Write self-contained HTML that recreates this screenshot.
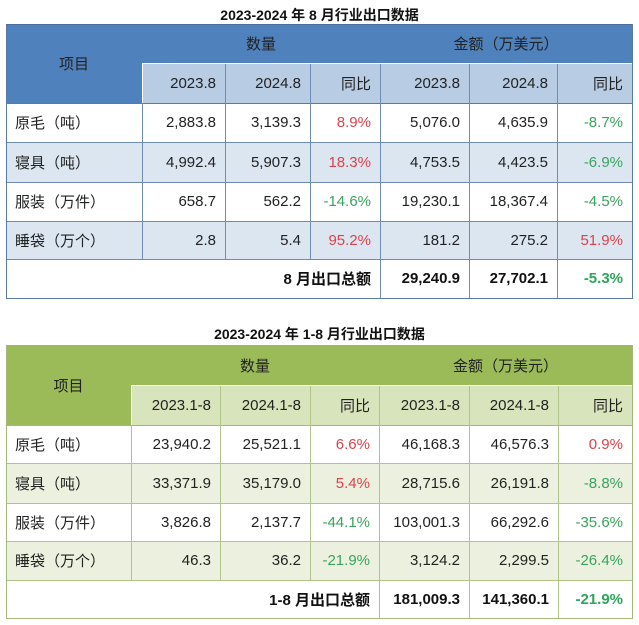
<!DOCTYPE html>
<html><head><meta charset="utf-8">
<style>
html,body{margin:0;padding:0;background:#fff;}
body{width:639px;height:625px;position:relative;overflow:hidden;font-family:"Liberation Sans","Noto Sans CJK SC",sans-serif;color:#222;font-size:15px;}
.b{position:absolute;}
.t{position:absolute;display:flex;align-items:center;justify-content:flex-end;padding-right:9px;box-sizing:border-box;white-space:nowrap;}
.l{justify-content:flex-start;padding-left:9px;padding-right:0;}
.c{justify-content:center;padding:0;}
.h{position:absolute;height:1px;}
.v{position:absolute;width:1px;}
.r{color:#d9434b;}
.g{color:#3aa35e;}
.bd{font-weight:bold;color:#111;}
.bg2{color:#2ea55a;font-weight:bold;}
.title{position:absolute;left:0;width:639px;text-align:center;font-weight:bold;font-size:14px;color:#111;font-family:"Liberation Sans","Noto Sans CJK SC",sans-serif;}
</style></head><body>

<!-- ============ TABLE 1 ============ -->
<div class="title" style="top:5px;">2023-2024 年 8 月行业出口数据</div>
<div class="b" style="left:6px;top:24px;width:626px;height:79px;background:#4f81bd"></div>
<div class="b" style="left:142px;top:63px;width:490px;height:40px;background:#b8cce4"></div>
<div class="b" style="left:6px;top:142px;width:626px;height:40px;background:#dce6f1"></div>
<div class="b" style="left:6px;top:221px;width:626px;height:38px;background:#dce6f1"></div>

<!-- header text -->
<div class="t c" style="left:6px;top:24px;width:136px;height:79px;">项目</div>
<div class="t c" style="left:142px;top:24px;width:238px;height:39px;">数量</div>
<div class="t c" style="left:380px;top:24px;width:252px;height:39px;">金额（万美元）</div>
<div class="t" style="left:142px;top:63px;width:83px;height:40px;">2023.8</div>
<div class="t" style="left:225px;top:63px;width:85px;height:40px;">2024.8</div>
<div class="t" style="left:310px;top:63px;width:70px;height:40px;">同比</div>
<div class="t" style="left:380px;top:63px;width:89px;height:40px;">2023.8</div>
<div class="t" style="left:469px;top:63px;width:88px;height:40px;">2024.8</div>
<div class="t" style="left:557px;top:63px;width:75px;height:40px;">同比</div>

<!-- row 1 -->
<div class="t l" style="left:6px;top:103px;width:136px;height:39px;">原毛（吨）</div>
<div class="t" style="left:142px;top:103px;width:83px;height:39px;">2,883.8</div>
<div class="t" style="left:225px;top:103px;width:85px;height:39px;">3,139.3</div>
<div class="t r" style="left:310px;top:103px;width:70px;height:39px;">8.9%</div>
<div class="t" style="left:380px;top:103px;width:89px;height:39px;">5,076.0</div>
<div class="t" style="left:469px;top:103px;width:88px;height:39px;">4,635.9</div>
<div class="t g" style="left:557px;top:103px;width:75px;height:39px;">-8.7%</div>
<!-- row 2 -->
<div class="t l" style="left:6px;top:142px;width:136px;height:40px;">寝具（吨）</div>
<div class="t" style="left:142px;top:142px;width:83px;height:40px;">4,992.4</div>
<div class="t" style="left:225px;top:142px;width:85px;height:40px;">5,907.3</div>
<div class="t r" style="left:310px;top:142px;width:70px;height:40px;">18.3%</div>
<div class="t" style="left:380px;top:142px;width:89px;height:40px;">4,753.5</div>
<div class="t" style="left:469px;top:142px;width:88px;height:40px;">4,423.5</div>
<div class="t g" style="left:557px;top:142px;width:75px;height:40px;">-6.9%</div>
<!-- row 3 -->
<div class="t l" style="left:6px;top:182px;width:136px;height:39px;">服装（万件）</div>
<div class="t" style="left:142px;top:182px;width:83px;height:39px;">658.7</div>
<div class="t" style="left:225px;top:182px;width:85px;height:39px;">562.2</div>
<div class="t g" style="left:310px;top:182px;width:70px;height:39px;">-14.6%</div>
<div class="t" style="left:380px;top:182px;width:89px;height:39px;">19,230.1</div>
<div class="t" style="left:469px;top:182px;width:88px;height:39px;">18,367.4</div>
<div class="t g" style="left:557px;top:182px;width:75px;height:39px;">-4.5%</div>
<!-- row 4 -->
<div class="t l" style="left:6px;top:221px;width:136px;height:38px;">睡袋（万个）</div>
<div class="t" style="left:142px;top:221px;width:83px;height:38px;">2.8</div>
<div class="t" style="left:225px;top:221px;width:85px;height:38px;">5.4</div>
<div class="t r" style="left:310px;top:221px;width:70px;height:38px;">95.2%</div>
<div class="t" style="left:380px;top:221px;width:89px;height:38px;">181.2</div>
<div class="t" style="left:469px;top:221px;width:88px;height:38px;">275.2</div>
<div class="t r" style="left:557px;top:221px;width:75px;height:38px;">51.9%</div>
<!-- total -->
<div class="t bd" style="left:6px;top:259px;width:374px;height:39px;">8 月出口总额</div>
<div class="t bd" style="left:380px;top:259px;width:89px;height:39px;">29,240.9</div>
<div class="t bd" style="left:469px;top:259px;width:88px;height:39px;">27,702.1</div>
<div class="t bg2" style="left:557px;top:259px;width:75px;height:39px;">-5.3%</div>

<!-- lines table 1 -->
<div class="h" style="left:6px;top:24px;width:627px;background:#4a6f9e"></div>
<div class="h" style="left:142px;top:63px;width:490px;background:#fff"></div>
<div class="h" style="left:6px;top:103px;width:627px;background:#5b7aa3"></div>
<div class="h" style="left:6px;top:142px;width:627px;background:#6f8db3"></div>
<div class="h" style="left:6px;top:182px;width:627px;background:#6f8db3"></div>
<div class="h" style="left:6px;top:221px;width:627px;background:#6f8db3"></div>
<div class="h" style="left:6px;top:259px;width:627px;background:#6f8db3"></div>
<div class="h" style="left:6px;top:298px;width:627px;background:#5b7aa3"></div>
<div class="v" style="left:6px;top:24px;height:275px;background:#5b7aa3"></div>
<div class="v" style="left:632px;top:24px;height:275px;background:#5b7aa3"></div>
<div class="v" style="left:142px;top:63px;height:40px;background:#fff"></div>
<div class="v" style="left:142px;top:103px;height:156px;background:#6f8db3"></div>
<div class="v" style="left:225px;top:64px;height:195px;background:#6f8db3"></div>
<div class="v" style="left:310px;top:64px;height:195px;background:#6f8db3"></div>
<div class="v" style="left:380px;top:64px;height:234px;background:#6f8db3"></div>
<div class="v" style="left:469px;top:64px;height:234px;background:#6f8db3"></div>
<div class="v" style="left:557px;top:64px;height:234px;background:#6f8db3"></div>

<!-- ============ TABLE 2 ============ -->
<div class="title" style="top:324px;">2023-2024 年 1-8 月行业出口数据</div>
<div class="b" style="left:6px;top:345px;width:626px;height:80px;background:#9bbb59"></div>
<div class="b" style="left:131px;top:385px;width:501px;height:40px;background:#d8e4bc"></div>
<div class="b" style="left:6px;top:463px;width:626px;height:40px;background:#ebf1de"></div>
<div class="b" style="left:6px;top:541px;width:626px;height:39px;background:#ebf1de"></div>

<div class="t c" style="left:6px;top:345px;width:125px;height:80px;">项目</div>
<div class="t c" style="left:131px;top:345px;width:248px;height:40px;">数量</div>
<div class="t c" style="left:379px;top:345px;width:253px;height:40px;">金额（万美元）</div>
<div class="t" style="left:131px;top:385px;width:89px;height:40px;">2023.1-8</div>
<div class="t" style="left:220px;top:385px;width:90px;height:40px;">2024.1-8</div>
<div class="t" style="left:310px;top:385px;width:69px;height:40px;">同比</div>
<div class="t" style="left:379px;top:385px;width:90px;height:40px;">2023.1-8</div>
<div class="t" style="left:469px;top:385px;width:89px;height:40px;">2024.1-8</div>
<div class="t" style="left:558px;top:385px;width:74px;height:40px;">同比</div>

<div class="t l" style="left:6px;top:425px;width:125px;height:38px;">原毛（吨）</div>
<div class="t" style="left:131px;top:425px;width:89px;height:38px;">23,940.2</div>
<div class="t" style="left:220px;top:425px;width:90px;height:38px;">25,521.1</div>
<div class="t r" style="left:310px;top:425px;width:69px;height:38px;">6.6%</div>
<div class="t" style="left:379px;top:425px;width:90px;height:38px;">46,168.3</div>
<div class="t" style="left:469px;top:425px;width:89px;height:38px;">46,576.3</div>
<div class="t r" style="left:558px;top:425px;width:74px;height:38px;">0.9%</div>

<div class="t l" style="left:6px;top:463px;width:125px;height:40px;">寝具（吨）</div>
<div class="t" style="left:131px;top:463px;width:89px;height:40px;">33,371.9</div>
<div class="t" style="left:220px;top:463px;width:90px;height:40px;">35,179.0</div>
<div class="t r" style="left:310px;top:463px;width:69px;height:40px;">5.4%</div>
<div class="t" style="left:379px;top:463px;width:90px;height:40px;">28,715.6</div>
<div class="t" style="left:469px;top:463px;width:89px;height:40px;">26,191.8</div>
<div class="t g" style="left:558px;top:463px;width:74px;height:40px;">-8.8%</div>

<div class="t l" style="left:6px;top:503px;width:125px;height:38px;">服装（万件）</div>
<div class="t" style="left:131px;top:503px;width:89px;height:38px;">3,826.8</div>
<div class="t" style="left:220px;top:503px;width:90px;height:38px;">2,137.7</div>
<div class="t g" style="left:310px;top:503px;width:69px;height:38px;">-44.1%</div>
<div class="t" style="left:379px;top:503px;width:90px;height:38px;">103,001.3</div>
<div class="t" style="left:469px;top:503px;width:89px;height:38px;">66,292.6</div>
<div class="t g" style="left:558px;top:503px;width:74px;height:38px;">-35.6%</div>

<div class="t l" style="left:6px;top:541px;width:125px;height:39px;">睡袋（万个）</div>
<div class="t" style="left:131px;top:541px;width:89px;height:39px;">46.3</div>
<div class="t" style="left:220px;top:541px;width:90px;height:39px;">36.2</div>
<div class="t g" style="left:310px;top:541px;width:69px;height:39px;">-21.9%</div>
<div class="t" style="left:379px;top:541px;width:90px;height:39px;">3,124.2</div>
<div class="t" style="left:469px;top:541px;width:89px;height:39px;">2,299.5</div>
<div class="t g" style="left:558px;top:541px;width:74px;height:39px;">-26.4%</div>

<div class="t bd" style="left:6px;top:580px;width:373px;height:38px;">1-8 月出口总额</div>
<div class="t bd" style="left:379px;top:580px;width:90px;height:38px;">181,009.3</div>
<div class="t bd" style="left:469px;top:580px;width:89px;height:38px;">141,360.1</div>
<div class="t bg2" style="left:558px;top:580px;width:74px;height:38px;">-21.9%</div>

<!-- lines table 2 -->
<div class="h" style="left:6px;top:345px;width:627px;background:#9bbb59"></div>
<div class="h" style="left:131px;top:385px;width:501px;background:#fff"></div>
<div class="h" style="left:6px;top:425px;width:627px;background:#a3b87a"></div>
<div class="h" style="left:6px;top:463px;width:627px;background:#b2c38a"></div>
<div class="h" style="left:6px;top:503px;width:627px;background:#b2c38a"></div>
<div class="h" style="left:6px;top:541px;width:627px;background:#b2c38a"></div>
<div class="h" style="left:6px;top:580px;width:627px;background:#b2c38a"></div>
<div class="h" style="left:6px;top:618px;width:627px;background:#a3b87a"></div>
<div class="v" style="left:6px;top:345px;height:274px;background:#a3b87a"></div>
<div class="v" style="left:632px;top:345px;height:274px;background:#a3b87a"></div>
<div class="v" style="left:131px;top:385px;height:40px;background:#fff"></div>
<div class="v" style="left:131px;top:425px;height:155px;background:#b2c38a"></div>
<div class="v" style="left:220px;top:386px;height:194px;background:#b2c38a"></div>
<div class="v" style="left:310px;top:386px;height:194px;background:#b2c38a"></div>
<div class="v" style="left:379px;top:386px;height:232px;background:#b2c38a"></div>
<div class="v" style="left:469px;top:386px;height:232px;background:#b2c38a"></div>
<div class="v" style="left:558px;top:386px;height:232px;background:#b2c38a"></div>

</body></html>
